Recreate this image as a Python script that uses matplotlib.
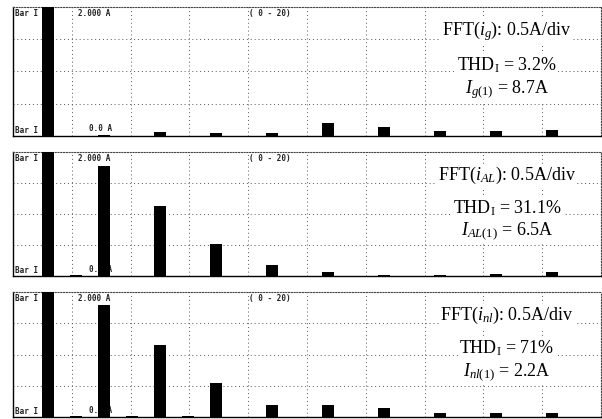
import numpy as np
import matplotlib
matplotlib.use("Agg")
import matplotlib.pyplot as plt

plt.rcParams['font.family'] = ['Liberation Serif', 'DejaVu Serif']
plt.rcParams['mathtext.fontset'] = 'custom'
plt.rcParams['mathtext.rm'] = 'Liberation Serif'
plt.rcParams['mathtext.it'] = 'Liberation Serif:italic'

# harmonic order 0..20 (scope range "( 0 - 20)"), amplitudes in A
harmonics = list(range(21))
i_g = [0, 8.7, 0.0, 0.02, 0, 0.06, 0, 0.04, 0, 0.04, 0,
       0.20, 0, 0.14, 0, 0.08, 0, 0.08, 0, 0.09, 0]
i_al = [0, 6.5, 0.02, 1.77, 0, 1.13, 0, 0.52, 0, 0.17, 0,
        0.065, 0, 0.02, 0, 0.02, 0, 0.04, 0, 0.07, 0]
i_nl = [0, 2.2, 0.02, 1.79, 0.02, 1.15, 0.02, 0.54, 0, 0.20, 0,
        0.19, 0, 0.15, 0, 0.07, 0, 0.07, 0, 0.06, 0]

labels = [
    ["FFT($i_g$): 0.5A/div", "THD$_\\mathrm{I}$ = 3.2%", "$I_{g\\mathrm{(1)}}$ = 8.7A"],
    ["FFT($i_{AL}$): 0.5A/div", "THD$_\\mathrm{I}$ = 31.1%", "$I_{AL\\mathrm{(1)}}$ = 6.5A"],
    ["FFT($i_{nl}$): 0.5A/div", "THD$_\\mathrm{I}$ = 71%", "$I_{nl\\mathrm{(1)}}$ = 2.2A"],
]
series = [i_g, i_al, i_nl]

W, H = 602, 419
fig = plt.figure(figsize=(W / 100, H / 100), dpi=100)

# panel (top, bottom) in pixels
panels = [(7, 136), (152, 276), (292, 417)]
x0, x1 = 13, 601
xmin, xmax = -0.25, 20.75

mono = dict(family='DejaVu Sans Mono', fontsize=5.5, fontweight='bold', color='#222')

for (top, bot), vals, lab in zip(panels, series, labels):
    ax = fig.add_axes([x0 / W, (H - bot) / H, (x1 - x0) / W, (bot - top) / H])
    ax.set_xlim(xmin, xmax)
    ax.set_ylim(0, 2.0)

    ax.set_xticks(np.linspace(xmin, xmax, 11)[1:-1])
    ax.set_yticks([0.5, 1.0, 1.5])
    ax.tick_params(length=0, labelbottom=False, labelleft=False)
    ax.grid(True, color='#555', linestyle=(0, (1, 3)), linewidth=0.7)
    ax.set_axisbelow(True)

    ax.bar(harmonics, vals, width=0.42, color='black', zorder=3)

    for s in ['left', 'bottom']:
        ax.spines[s].set_linewidth(1.0)
        ax.spines[s].set_color('black')
    for s in ['top', 'right']:
        ax.spines[s].set_linestyle((0, (1, 1.5)))
        ax.spines[s].set_linewidth(0.8)
        ax.spines[s].set_color('#444')

    # scope screen annotations
    ax.text(0.003, 0.985, "Bar I", transform=ax.transAxes, va='top', ha='left', zorder=2, **mono)
    ax.text(0.003, 0.01, "Bar I", transform=ax.transAxes, va='bottom', ha='left', zorder=2, **mono)
    ax.text(0.111, 0.985, "2.000 A", transform=ax.transAxes, va='top', ha='left', zorder=2, **mono)
    ax.text(0.129, 0.02, "0.0 A", transform=ax.transAxes, va='bottom', ha='left', zorder=2, **mono)
    ax.text(0.402, 0.985, "( 0 - 20)", transform=ax.transAxes, va='top', ha='left', zorder=2, **mono)

    for t, yy in zip(lab, [0.81, 0.55, 0.36]):
        ax.text(0.84, yy, t, transform=ax.transAxes, ha='center', va='center',
                fontsize=13, zorder=5,
                bbox=dict(facecolor='white', edgecolor='none', pad=1.0))

fig.savefig("out.png", dpi=100)
